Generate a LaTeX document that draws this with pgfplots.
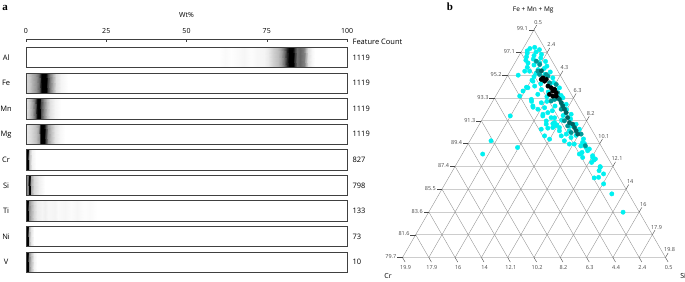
\documentclass[border=0pt]{standalone}
\usepackage{fontspec}
\setmainfont{Open Sans}
\newfontfamily\panelfont{Liberation Serif}
\usepackage{pgfplots}
\pgfplotsset{compat=1.18}
\usepackage{pgfplotstable}

\definecolor{cyanpt}{RGB}{0,240,240}
\definecolor{tealpt}{RGB}{0,150,150}
\definecolor{dteal}{RGB}{0,98,98}
\definecolor{hgrid}{RGB}{205,205,205}
\definecolor{dgrid}{RGB}{140,140,140}
\definecolor{tickc}{RGB}{70,70,70}

% ternary data: Fe+Mn+Mg (wt%) and Cr (wt%); Si = remainder
\pgfplotstableread{
FMM Cr
97.6 1.2
97.5 1.6
97.4 0.95
97.3 1.9
97.2 1.3
97.1 2.0
97.0 1.0
96.9 1.6
96.8 2.2
96.7 1.2
96.6 1.8
96.5 2.4
96.4 1.0
96.3 1.5
96.27 2.36
96.1 2.0
96.0 1.1
95.9 2.6
95.8 1.4
95.7 1.9
95.57 2.59
95.57 2.95
95.5 1.1
95.4 2.2
95.3 1.6
95.23 3.6
95.1 2.5
95.0 1.16
94.9 2.0
94.8 2.8
94.72 2.77
94.6 1.3
94.5 2.3
94.4 1.7
94.3 2.85
94.2 3.51
94.16 3.42
94.15 1.1
94.0 2.5
93.9 1.5
93.88 3.92
93.8 2.1
93.6 2.97
93.5 1.3
93.45 4.38
93.4 2.4
93.3 1.27
93.2 1.9
93.17 3.66
93.0 3.73
93.0 2.6
92.88 3.07
92.8 1.6
92.75 1.3
92.61 3.83
92.6 2.2
92.5 3.87
92.46 3.04
92.33 3.6
92.3 1.5
92.2 2.6
92.04 3.01
91.9 1.36
91.9 3.44
91.8 2.0
91.76 5.92
91.76 3.52
91.61 2.98
91.6 2.73
91.5 1.6
91.4 2.3
91.33 3.48
91.19 2.94
91.1 3.11
91.06 3.62
91.05 1.42
91.0 2.87
90.91 3.08
90.9 1.9
90.77 3.28
90.77 2.79
90.72 3.67
90.63 4.2
90.63 1.39
90.5 2.2
90.49 2.93
90.4 1.6
90.21 2.57
90.1 1.9
90.06 4.24
90.06 3.01
89.92 2.36
89.8 1.5
89.78 4.01
89.64 8.4
89.64 2.99
89.5 1.72
89.41 1.63
89.36 2.4
89.36 2.76
89.2 2.0
89.07 1.68
89.07 6.73
88.94 1.5
88.79 1.7
88.65 2.18
88.56 2.29
88.51 2.45
88.51 9.58
88.37 1.54
88.22 2.35
88.22 1.61
88.09 1.48
88.0 1.63
87.8 1.9
87.44 1.45
87.38 1.48
87.1 1.7
86.82 1.51
86.53 2.02
86.48 2.37
85.97 1.93
85.12 1.75
83.56 1.7
}\cyanpts

\pgfplotstableread{
FMM Cr
96.42 1.67
96.14 1.56
95.57 1.98
95.29 1.99
95.29 1.5
95.15 1.45
94.58 1.61
94.44 1.19
93.73 1.43
93.17 1.95
93.03 2.27
92.33 1.88
91.34 2.14
90.91 2.11
90.34 2.14
89.22 1.66
90.21 1.47
}\tealpts

\pgfplotstableread{
FMM Cr
95.6 1.7
93.31 1.64
93.17 1.59
92.89 1.6
92.61 1.62
92.33 1.64
92.04 1.66
91.62 1.76
91.19 1.84
91.06 1.67
90.77 1.68
90.49 1.7
90.21 1.72
}\dtealpts

\pgfplotstableread{
FMM Cr
95.0 1.89
94.72 1.91
94.87 1.71
94.3 1.87
94.16 1.71
93.88 1.73
94.02 1.52
93.6 2.11
93.45 1.94
93.45 1.69
93.73 1.55
94.87 2.08
}\blackpts

\newcommand\Flab[1]{\ifcase#1 79.7\or 81.6\or 83.6\or 85.5\or 87.4\or 89.4\or 91.3\or 93.3\or 95.2\or 97.1\or 99.1\fi}
\newcommand\Slab[1]{\ifcase#1 0.5\or 2.4\or 4.3\or 6.3\or 8.2\or 10.1\or 12.1\or 14\or 16\or 17.9\or 19.8\fi}
\newcommand\Clab[1]{\ifcase#1 19.9\or 17.9\or 16\or 14\or 12.1\or 10.2\or 8.2\or 6.3\or 4.4\or 2.4\or 0.5\fi}
\newcommand\tern{\fontsize{5.5}{6.5}\selectfont}
\newcommand\lab{\fontsize{7.5}{9}\selectfont}

% density strip: #1 = row index, #2 = list of wt%/darkness
\newcommand\StripPlot[2]{%
  \def\sLo{}\def\sHi{}%
  \pgfmathsetmacro\ylo{-#1-0.398}\pgfmathsetmacro\yhi{-#1+0.398}%
  \foreach \qx/\qd in {#2}{\xdef\sLo{\sLo(\qx,\ylo)[\qd] }\xdef\sHi{\sHi(\qx,\yhi)[\qd] }}%
  \edef\doplot{\noexpand\addplot[surf,shader=interp,mesh/rows=2,point meta=explicit] coordinates {\sLo\sHi};}%
  \doplot
}

\begin{document}
\begin{tikzpicture}
\path[use as bounding box] (0,0) rectangle (685pt,281pt);

\node[font=\panelfont\bfseries\fontsize{11}{12}\selectfont] at (5pt,273.5pt) {a};
\node[font=\panelfont\bfseries\fontsize{11}{12}\selectfont] at (450pt,274pt) {b};

\begin{axis}[
  at={(26pt,8.7pt)}, anchor=south west, scale only axis,
  width=321pt, height=233pt,
  xmin=0, xmax=100, ymin=-8.398, ymax=0.711,
  axis x line*=top, axis y line=none,
  x axis line style={-, draw=black!75, line width=0.5pt},
  xtick={0,25,50,75,100}, tick align=inside, major tick length=2.5pt,
  tick style={black!75, line width=0.5pt},
  /pgf/number format/assume math mode=true,
  xticklabel style={font=\fontsize{7}{8}\selectfont, yshift=2pt},
  clip=false,
  colormap={gw}{color=(white) color=(black)},
  point meta min=0, point meta max=1,
]
\StripPlot{0}{0/0, 60/0, 62/0.02, 64/0.005, 66/0.02, 68/0.035, 70/0.01, 72/0.03, 74/0.04, 75.5/0.08, 77/0.18, 78.5/0.26, 79.5/0.36, 80.5/0.55, 81.2/0.85, 81.8/1, 83.2/1, 83.8/0.75, 84.5/0.55, 85.5/0.6, 86.5/0.5, 87.3/0.3, 88/0.12, 89/0.03, 90/0, 100/0}
\StripPlot{1}{0/0.15, 1/0.2, 2/0.3, 3/0.42, 4/0.6, 4.6/0.92, 5.1/1, 6.3/1, 6.8/0.7, 7.5/0.5, 8.5/0.3, 9.5/0.12, 11/0.04, 13/0, 100/0}
\StripPlot{2}{0/0.1, 1/0.2, 2/0.35, 2.8/0.6, 3.3/0.95, 3.6/1, 4.4/1, 4.8/0.7, 5.5/0.45, 6.5/0.25, 7.5/0.12, 9/0.04, 11/0, 100/0}
\StripPlot{3}{0/0.08, 1.5/0.15, 3/0.25, 4/0.4, 4.5/0.8, 4.8/1, 5.7/1, 6.1/0.7, 6.8/0.4, 7.8/0.25, 9/0.1, 10.5/0.03, 12/0, 100/0}
\StripPlot{4}{0/1, 0.6/1, 0.8/0.4, 1.3/0.2, 2/0.05, 3/0, 100/0}
\StripPlot{5}{0/0.45, 0.6/0.5, 0.8/1, 1.4/1, 1.6/0.35, 2.5/0.15, 4/0.06, 6/0, 100/0}
\StripPlot{6}{0/1, 0.6/1, 0.8/0.45, 1.5/0.3, 2.5/0.15, 3.5/0.07, 5/0.04, 6/0.06, 7/0.03, 9/0.045, 10/0.02, 12/0.035, 14/0.015, 16/0.035, 18/0.01, 20/0.02, 22/0, 100/0}
\StripPlot{7}{0/1, 0.6/1, 0.8/0.3, 1.5/0.1, 2.5/0, 100/0}
\StripPlot{8}{0/1, 0.6/1, 0.8/0.45, 1.5/0.25, 2.5/0.05, 3.5/0, 100/0}
\pgfplotsinvokeforeach{0,...,8}{
  \draw[black!75, line width=0.6pt] (axis cs:0,{-#1-0.398}) rectangle (axis cs:100,{-#1+0.398});
}
\node[font=\lab] at (axis cs:-6.2,0) {Al};
\node[font=\lab] at (axis cs:-6.2,-1) {Fe};
\node[font=\lab] at (axis cs:-6.2,-2) {Mn};
\node[font=\lab] at (axis cs:-6.2,-3) {Mg};
\node[font=\lab] at (axis cs:-6.2,-4) {Cr};
\node[font=\lab] at (axis cs:-6.2,-5) {Si};
\node[font=\lab] at (axis cs:-6.2,-6) {Ti};
\node[font=\lab] at (axis cs:-6.2,-7) {Ni};
\node[font=\lab] at (axis cs:-6.2,-8) {V};
\node[font=\lab, anchor=west, inner sep=0pt] at (axis cs:101.7,0) {1119};
\node[font=\lab, anchor=west, inner sep=0pt] at (axis cs:101.7,-1) {1119};
\node[font=\lab, anchor=west, inner sep=0pt] at (axis cs:101.7,-2) {1119};
\node[font=\lab, anchor=west, inner sep=0pt] at (axis cs:101.7,-3) {1119};
\node[font=\lab, anchor=west, inner sep=0pt] at (axis cs:101.7,-4) {827};
\node[font=\lab, anchor=west, inner sep=0pt] at (axis cs:101.7,-5) {798};
\node[font=\lab, anchor=west, inner sep=0pt] at (axis cs:101.7,-6) {133};
\node[font=\lab, anchor=west, inner sep=0pt] at (axis cs:101.7,-7) {73};
\node[font=\lab, anchor=west, inner sep=0pt] at (axis cs:101.7,-8) {10};
\node[font=\lab, anchor=west, inner sep=0pt] at (axis cs:101.7,0.63) {Feature Count};
\node[font=\fontsize{7}{8}\selectfont] at (axis cs:50,1.66) {Wt\%};
\end{axis}

\begin{axis}[
  at={(402.5pt,23.5pt)}, anchor=south west, scale only axis,
  width=263pt, height=227.77pt,
  xmin=0, xmax=10, ymin=0, ymax=8.6603,
  hide axis, clip=false,
]
\pgfplotsinvokeforeach{0,...,10}{
  \draw[hgrid, line width=0.8pt] (axis cs:{0.5*#1},{0.8660*#1}) -- (axis cs:{10-0.5*#1},{0.8660*#1});
}
\pgfplotsinvokeforeach{0,...,10}{
  \draw[dgrid, line width=0.35pt] (axis cs:#1,0) -- (axis cs:{5+0.5*#1},{0.8660*(10-#1)});
  \draw[dgrid, line width=0.35pt] (axis cs:{10-#1},0) -- (axis cs:{0.5*(10-#1)},{0.8660*(10-#1)});
  \draw[tickc, line width=0.4pt] (axis cs:{0.5*#1},{0.8660*#1}) -- (axis cs:{0.5*#1-0.2},{0.8660*#1}) node[anchor=east, inner sep=0.7pt, yshift=0.7pt, font=\tern] {\Flab{#1}};
  \draw[tickc, line width=0.4pt] (axis cs:{5+0.5*#1},{0.8660*(10-#1)}) -- (axis cs:{5.1+0.5*#1},{0.8660*(10-#1)+0.1732}) node[anchor=south, inner sep=0.7pt, xshift=1.5pt, font=\tern] {\Slab{#1}};
  \draw[tickc, line width=0.4pt] (axis cs:#1,0) -- (axis cs:{#1+0.1},-0.1732) node[anchor=north, inner sep=0.8pt, xshift=0.5pt, yshift=-2.5pt, font=\tern] {\Clab{#1}};
}
\addplot[only marks, mark=*, mark size=2.2pt, mark options={draw=cyanpt, fill=cyanpt}]
  table[x expr={10-(\thisrow{Cr}-0.5)/1.94-0.5*(\thisrow{FMM}-79.7)/1.94}, y expr={0.8660*(\thisrow{FMM}-79.7)/1.94}]{\cyanpts};
\addplot[only marks, mark=*, mark size=2.2pt, mark options={draw=tealpt, fill=tealpt}]
  table[x expr={10-(\thisrow{Cr}-0.5)/1.94-0.5*(\thisrow{FMM}-79.7)/1.94}, y expr={0.8660*(\thisrow{FMM}-79.7)/1.94}]{\tealpts};
\addplot[only marks, mark=*, mark size=2.2pt, mark options={draw=dteal, fill=dteal}]
  table[x expr={10-(\thisrow{Cr}-0.5)/1.94-0.5*(\thisrow{FMM}-79.7)/1.94}, y expr={0.8660*(\thisrow{FMM}-79.7)/1.94}]{\dtealpts};
\addplot[only marks, mark=*, mark size=2.2pt, mark options={draw=black, fill=black}]
  table[x expr={10-(\thisrow{Cr}-0.5)/1.94-0.5*(\thisrow{FMM}-79.7)/1.94}, y expr={0.8660*(\thisrow{FMM}-79.7)/1.94}]{\blackpts};
\node[font=\fontsize{6.5}{8}\selectfont] at (axis cs:4.97,9.41) {Fe + Mn + Mg};
\node[font=\fontsize{7}{8}\selectfont] at (axis cs:-0.55,-0.72) {Cr};
\node[font=\fontsize{7}{8}\selectfont] at (axis cs:10.67,-0.72) {Si};
\end{axis}
\end{tikzpicture}
\end{document}
